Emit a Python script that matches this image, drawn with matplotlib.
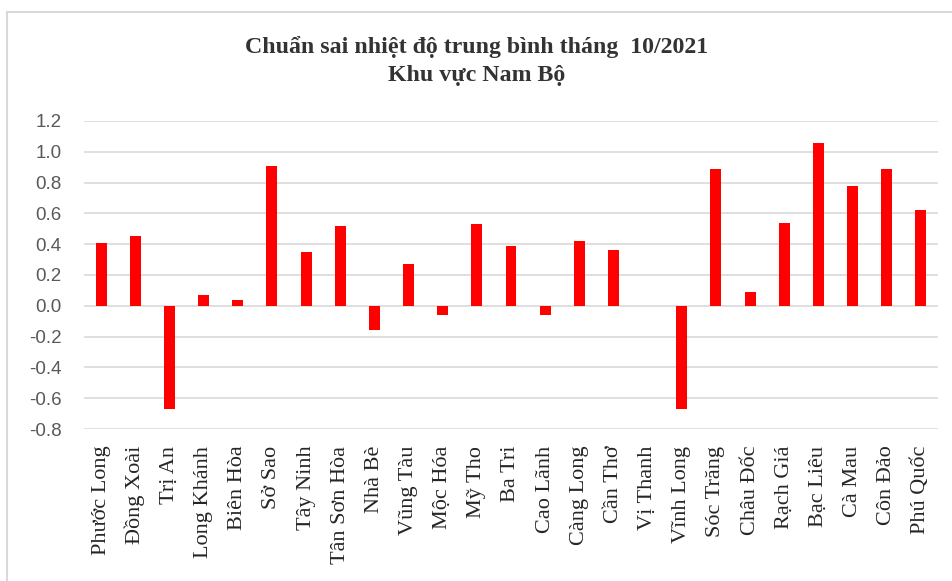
import matplotlib.pyplot as plt
from matplotlib.patches import Rectangle
import numpy as np

stations = ["Phước Long", "Đồng Xoài", "Trị An", "Long Khánh", "Biên Hòa", "Sở Sao",
            "Tây Ninh", "Tân Sơn Hòa", "Nhà Bè", "Vũng Tàu", "Mộc Hóa", "Mỹ Tho",
            "Ba Tri", "Cao Lãnh", "Càng Long", "Cần Thơ", "Vị Thanh", "Vĩnh Long",
            "Sóc Trăng", "Châu Đốc", "Rạch Giá", "Bạc Liêu", "Cà Mau", "Côn Đảo", "Phú Quốc"]
anomaly = [0.41, 0.45, -0.67, 0.07, 0.04, 0.91,
           0.35, 0.52, -0.16, 0.27, -0.06, 0.53,
           0.39, -0.06, 0.42, 0.36, 0.0, -0.67,
           0.89, 0.09, 0.54, 1.06, 0.78, 0.89, 0.62]
yticks = [1.2, 1.0, 0.8, 0.6, 0.4, 0.2, 0.0, -0.2, -0.4, -0.6, -0.8]

fig = plt.figure(figsize=(9.53, 5.81), dpi=100)
# chart border (Excel style)
fig.patches.append(Rectangle((7 / 953, -0.01), 1.0, 1 - 12 / 581 + 0.01,
                             transform=fig.transFigure, fill=False,
                             edgecolor="#d9d9d9", linewidth=1.5))

ax = fig.add_axes([84 / 953, 1 - 429 / 581, (938 - 84) / 953, (429 - 121) / 581])
x = np.arange(len(stations))
ax.bar(x, anomaly, width=0.32, color="#ff0000", zorder=3)

ax.set_xlim(-0.5, len(stations) - 0.5)
ax.set_ylim(-0.8, 1.2)
ax.set_yticks(yticks)
ax.set_yticklabels([f"{v:.1f}" for v in yticks], fontsize=13.5,
                   color="#595959", family="Liberation Sans")
ax.set_xticks(x)
ax.set_xticklabels(stations, rotation=90, fontsize=16, family="Liberation Serif",
                   color="#262626", va="top")
ax.tick_params(length=0, axis="both")
ax.yaxis.set_tick_params(pad=16)
ax.xaxis.set_tick_params(pad=12)
ax.grid(axis="y", color="#d9d9d9", linewidth=1.2, zorder=0)
for s in ax.spines.values():
    s.set_visible(False)

fig.text(0.5, 1 - 47 / 581, "Chuẩn sai nhiệt độ trung bình tháng  10/2021",
         ha="center", va="center", fontsize=17.2, fontweight="bold",
         family="Liberation Serif", color="#333333")
fig.text(0.5, 1 - 75 / 581, "Khu vực Nam Bộ", ha="center", va="center",
         fontsize=17.2, fontweight="bold", family="Liberation Serif", color="#333333")

fig.savefig("out.png", dpi=100)
